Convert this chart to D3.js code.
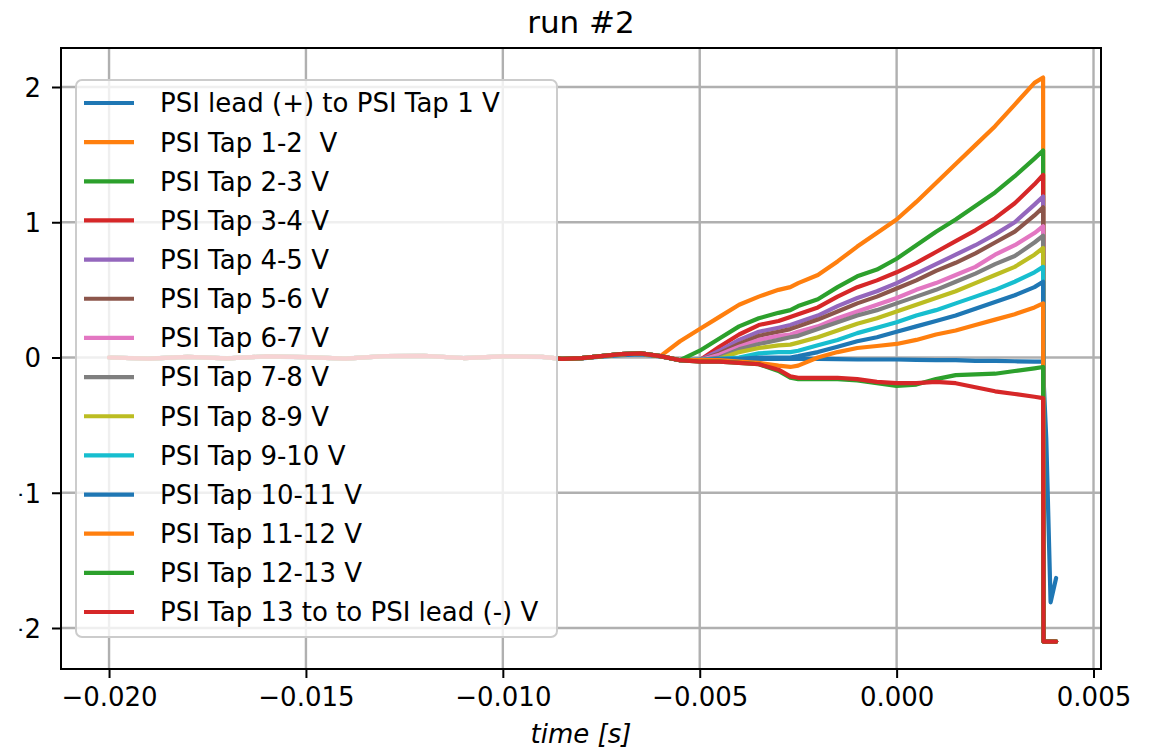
<!DOCTYPE html>
<html><head><meta charset="utf-8">
<script src="https://cdn.jsdelivr.net/npm/d3@7"></script>
<style>
body{margin:0;background:#fff}
svg text{font-family:"DejaVu Sans",sans-serif;fill:#000}
</style>
</head><body>
<svg id="chart" width="1160" height="751"></svg>
<script>
// ---- data ----
const times = [-0.020,-0.019,-0.018,-0.017,-0.016,-0.015,-0.014,-0.013,-0.012,-0.011,-0.010,-0.009,-0.0085,-0.008,-0.0075,-0.007,-0.0065,
  -0.006,-0.0055,-0.005,-0.0045,-0.004,-0.0035,-0.003,-0.0027,-0.0025,-0.002,-0.0015,-0.001,-0.0005,0.0,0.0005,0.001,0.0015,0.002,0.0025,0.003,0.0035,0.00372,0.00373,0.0038,0.00391,0.00405];

const preTrigger = [0.0,-0.008,0.004,-0.006,0.008,0.002,-0.008,0.01,0.012,-0.004,0.008,0.004,-0.01,-0.005,0.01,0.025,0.03];
const preTriggerLead = [0.0,-0.006,0.003,-0.004,0.006,0.001,-0.006,0.008,0.01,-0.003,0.006,0.003,-0.008,-0.006,0.006,0.018,0.022];

const leadToTap1 = preTriggerLead.concat([0.008,-0.02,-0.015,-0.01,-0.01,-0.01,-0.01,-0.01,-0.01,-0.01,-0.012,-0.015,-0.015,-0.015,-0.018,-0.02,-0.02,-0.025,-0.025,-0.028,-0.03,-0.03,-0.15,-0.6,-1.81,-1.63]);
const tap1_2   = preTrigger.concat([0.01,0.12,0.21,0.30,0.39,0.45,0.50,0.52,0.55,0.61,0.71,0.82,0.92,1.02,1.15,1.29,1.43,1.57,1.71,1.87,2.03,2.07,-2.1,-2.1,-2.1,-2.1]);
const tap2_3   = preTrigger.concat([0.01,-0.02,0.05,0.14,0.23,0.29,0.33,0.35,0.38,0.43,0.52,0.60,0.65,0.73,0.83,0.93,1.02,1.12,1.22,1.34,1.47,1.53,-2.1,-2.1,-2.1,-2.1]);
const tap3_4   = preTrigger.concat([0.01,-0.02,-0.02,0.08,0.17,0.24,0.27,0.30,0.32,0.37,0.45,0.52,0.57,0.63,0.70,0.78,0.86,0.94,1.03,1.14,1.28,1.35,-2.1,-2.1,-2.1,-2.1]);
const tap4_5   = preTrigger.concat([0.01,-0.02,-0.02,0.05,0.13,0.19,0.22,0.24,0.26,0.31,0.38,0.44,0.49,0.55,0.62,0.69,0.76,0.83,0.91,1.00,1.13,1.19,-2.1,-2.1,-2.1,-2.1]);
const tap5_6   = preTrigger.concat([0.01,-0.02,-0.02,0.03,0.10,0.16,0.19,0.21,0.23,0.28,0.34,0.40,0.45,0.51,0.57,0.64,0.70,0.77,0.85,0.93,1.05,1.11,-2.1,-2.1,-2.1,-2.1]);
const tap6_7   = preTrigger.concat([0.01,-0.02,-0.02,0.02,0.08,0.13,0.16,0.17,0.19,0.23,0.29,0.34,0.39,0.44,0.50,0.55,0.61,0.67,0.76,0.83,0.92,0.97,-2.1,-2.1,-2.1,-2.1]);
const tap7_8   = preTrigger.concat([0.01,-0.02,-0.02,0.0,0.06,0.10,0.13,0.15,0.16,0.21,0.26,0.31,0.35,0.40,0.45,0.50,0.56,0.62,0.69,0.75,0.85,0.90,-2.1,-2.1,-2.1,-2.1]);
const tap8_9   = preTrigger.concat([0.01,-0.02,-0.02,-0.01,0.04,0.07,0.09,0.095,0.11,0.15,0.20,0.25,0.29,0.34,0.39,0.44,0.49,0.55,0.61,0.67,0.76,0.81,-2.1,-2.1,-2.1,-2.1]);
const tap9_10  = preTrigger.concat([0.01,-0.02,-0.02,-0.01,0.0,0.03,0.04,0.04,0.05,0.09,0.13,0.18,0.22,0.26,0.31,0.35,0.40,0.45,0.50,0.56,0.63,0.67,-2.1,-2.1,-2.1,-2.1]);
const tap10_11 = preTrigger.concat([0.01,-0.02,-0.02,-0.01,-0.01,0.0,0.0,0.0,0.01,0.04,0.08,0.12,0.15,0.19,0.23,0.27,0.31,0.36,0.41,0.46,0.52,0.56,-2.1,-2.1,-2.1,-2.1]);
const tap11_12 = preTrigger.concat([0.01,-0.02,-0.02,-0.02,-0.03,-0.04,-0.06,-0.07,-0.06,0.0,0.04,0.07,0.085,0.10,0.13,0.17,0.20,0.24,0.28,0.32,0.37,0.40,-2.1,-2.1,-2.1,-2.1]);
const tap12_13 = preTrigger.concat([0.01,-0.02,-0.03,-0.03,-0.04,-0.05,-0.10,-0.15,-0.16,-0.16,-0.16,-0.17,-0.19,-0.21,-0.20,-0.16,-0.13,-0.125,-0.12,-0.10,-0.08,-0.07,-2.1,-2.1,-2.1,-2.1]);
const tap13_lead = preTrigger.concat([0.01,-0.02,-0.03,-0.03,-0.04,-0.05,-0.09,-0.14,-0.15,-0.15,-0.15,-0.16,-0.18,-0.19,-0.19,-0.18,-0.19,-0.22,-0.25,-0.27,-0.29,-0.30,-2.1,-2.1,-2.1,-2.1]);

const seriesNames = ["PSI lead (+) to PSI Tap 1 V","PSI Tap 1-2  V","PSI Tap 2-3 V","PSI Tap 3-4 V","PSI Tap 4-5 V","PSI Tap 5-6 V","PSI Tap 6-7 V","PSI Tap 7-8 V","PSI Tap 8-9 V","PSI Tap 9-10 V","PSI Tap 10-11 V","PSI Tap 11-12 V","PSI Tap 12-13 V","PSI Tap 13 to to PSI lead (-) V"];
const seriesValues = [leadToTap1,tap1_2,tap2_3,tap3_4,tap4_5,tap5_6,tap6_7,tap7_8,tap8_9,tap9_10,tap10_11,tap11_12,tap12_13,tap13_lead];
const seriesColors = ["#1f77b4","#ff7f0e","#2ca02c","#d62728","#9467bd","#8c564b","#e377c2","#7f7f7f","#bcbd22","#17becf","#1f77b4","#ff7f0e","#2ca02c","#d62728"];

const xTicks = [-0.020,-0.015,-0.010,-0.005,0.000,0.005];
const xTickLabels = ["\u22120.020","\u22120.015","\u22120.010","\u22120.005","0.000","0.005"];
const yTicks = [-2,-1,0,1,2];
const yTickLabels = ["\u22122","\u22121","0","1","2"];
const titleText = "run #2";
const xLabelText = "time [s]";

// ---- layout ----
const L = 61, R = 1101, T = 48, B = 669;
const svg = d3.select("#chart");
const x = d3.scaleLinear().domain([-0.02122, 0.00519]).range([L, R]);
const y = d3.scaleLinear().domain([-2.303, 2.288]).range([B, T]);

const defs = svg.append("defs");
defs.append("clipPath").attr("id","plotclip")
  .append("rect").attr("x",L).attr("y",T).attr("width",R-L).attr("height",B-T);
defs.append("clipPath").attr("id","leftclip")
  .append("rect").attr("x",19.5).attr("y",0).attr("width",60).attr("height",751);

// grid
const grid = svg.append("g");
grid.selectAll("line.vx").data(xTicks).join("line")
  .attr("x1",d=>x(d)).attr("x2",d=>x(d)).attr("y1",T).attr("y2",B)
  .attr("stroke","#b0b0b0").attr("stroke-width",2.4);
grid.selectAll("line.hy").data(yTicks).join("line")
  .attr("x1",L).attr("x2",R).attr("y1",d=>y(d)).attr("y2",d=>y(d))
  .attr("stroke","#b0b0b0").attr("stroke-width",2.4);

// lines
const line = d3.line().x((d,i)=>x(times[i])).y(d=>y(d));
const plot = svg.append("g").attr("clip-path","url(#plotclip)");
seriesValues.forEach((vals,k)=>{
  plot.append("path").datum(vals).attr("d",line)
    .attr("fill","none").attr("stroke",seriesColors[k]).attr("stroke-width",4.2)
    .attr("stroke-linejoin","round").attr("stroke-linecap","round");
});

// axes
const xAxis = svg.append("g").attr("transform",`translate(0,${B})`)
  .call(d3.axisBottom(x).tickValues(xTicks).tickFormat((d,i)=>xTickLabels[i]).tickSize(9).tickPadding(8));
const yWrap = svg.append("g").attr("clip-path","url(#leftclip)");
const yAxis = yWrap.append("g").attr("transform",`translate(${L},0)`)
  .call(d3.axisLeft(y).tickValues(yTicks).tickFormat((d,i)=>yTickLabels[i]).tickSize(9).tickPadding(11));
[xAxis,yAxis].forEach(g=>{
  g.select(".domain").remove();
  g.selectAll(".tick line").attr("stroke","#000").attr("stroke-width",2);
  g.selectAll(".tick text").attr("font-size",26).attr("font-family","DejaVu Sans").attr("fill","#000");
});
xAxis.selectAll(".tick text").attr("dy","0.78em");
yAxis.selectAll(".tick text").attr("dy","0.36em");

// spines
svg.append("rect").attr("x",L).attr("y",T).attr("width",R-L).attr("height",B-T)
  .attr("fill","none").attr("stroke","#000").attr("stroke-width",2);

// title & label
svg.append("text").attr("x",(L+R)/2).attr("y",33).attr("text-anchor","middle")
  .attr("font-size",31).text(titleText);
svg.append("text").attr("x",(L+R)/2).attr("y",743).attr("text-anchor","middle")
  .attr("font-size",26).attr("font-style","italic").text(xLabelText);

// legend
const lg = svg.append("g");
lg.append("rect").attr("x",76).attr("y",80).attr("width",481).attr("height",557).attr("rx",6)
  .attr("fill","#fff").attr("fill-opacity",0.8).attr("stroke","#cccccc").attr("stroke-width",2);
const rowY = d3.scaleLinear().domain([0, seriesNames.length-1]).range([103, 612]);
seriesNames.forEach((name,k)=>{
  const yy = rowY(k);
  lg.append("line").attr("x1",84).attr("x2",134).attr("y1",yy).attr("y2",yy)
    .attr("stroke",seriesColors[k]).attr("stroke-width",4.2);
  lg.append("text").attr("x",160).attr("y",yy).attr("dy","0.36em").attr("font-size",26)
    .style("white-space","pre").text(name);
});
</script>
</body></html>
